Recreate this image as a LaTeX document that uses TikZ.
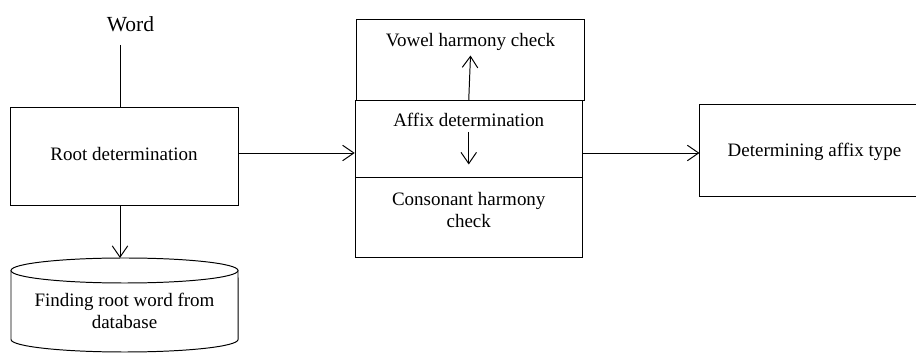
\documentclass[tikz,border=0pt]{standalone}
\usepackage{fontspec}
\setmainfont{Liberation Serif}
\usepackage{tikz}
\usetikzlibrary{arrows.meta}
\usetikzlibrary{positioning}
\tikzset{blk/.style = {draw, inner sep = 0, minimum width = 5.675cm}}
\tikzset{txt/.style = {inner sep = 0, align = center, font = \fontsize{13.5}{15.5}\selectfont}}
\tikzset{arr/.style = {-{Straight Barb[length = 8pt, width = 11pt, line width = 0.7pt]}}}

\begin{document}
\begin{tikzpicture}[x=0.025cm, y=-0.025cm, line width = 0.7pt]
    \useasboundingbox (0, 0) rectangle (916, 353);

    \node [txt, font = \fontsize{15.3}{18}\selectfont] (word) at (130.5, 24) {Word};
    \coordinate (wordin) at (120, 45);
    \coordinate (flow) at (0, 153);

    \node [blk, minimum height = 2.425cm] (root) at (124.5, 156.5) {};
    \node [txt] (roottxt) at (124, 154.5) {Root determination};

    \node [blk, minimum height = 2cm] (vowel) at (470.5, 60) {};
    \node [txt, anchor = base] (voweltxt) at (470.5, 46.7) {Vowel harmony check};

    \node [blk, minimum height = 1.925cm] (affix) at (468.75, 139) {};
    \node [txt, anchor = base] (affixtxt) at (468.75, 127) {Affix determination};

    \node [blk, minimum height = 2cm] (cons) at (468.75, 217.5) {};
    \node [txt] (constxt) at (468.75, 210) {Consonant harmony\\check};

    \node [blk, minimum height = 2.275cm] (det) at (813.5, 150.5) {};
    \node [txt] (dettxt) at (814.5, 152) {Determining affix type};

    % database
    \draw (11, 270.5) -- (11, 339.5) arc [start angle = 180, end angle = 360, x radius = 2.8375cm, y radius = 0.3125cm] -- (238, 270.5);
    \draw (124.5, 270.5) ellipse [x radius = 2.8375cm, y radius = 0.3125cm];
    \coordinate (dbtop) at (120, 258);
    \node [txt] (dbtxt) at (124.5, 310.7) {Finding root word from\\database};

    \draw (wordin) -- (wordin |- root.north);
    \draw [arr] (wordin |- root.south) -- (dbtop);
    \draw [arr] (root.east |- flow) -- (affix.west |- flow);
    \draw [arr] (affix.east |- flow) -- (det.west |- flow);
    \draw [arr] (affix.north) -- ([yshift = -3pt] voweltxt.south);
    \draw [arr, shorten > = 8.9pt] ([yshift = -3pt] affixtxt.south) -- (affixtxt.south |- cons.north);
  \end{tikzpicture}
\end{document}
